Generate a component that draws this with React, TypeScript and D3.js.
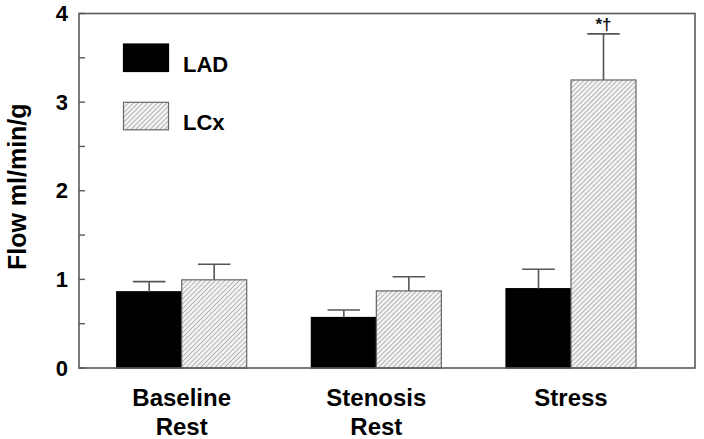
import React from "react";
import * as d3 from "d3";

const groups = ["Baseline Rest", "Stenosis Rest", "Stress"];
const groupLines = [["Baseline", "Rest"], ["Stenosis", "Rest"], ["Stress"]];
const series = ["LAD", "LCx"];
const ladMean = [0.86, 0.57, 0.895];
const ladErr = [0.975, 0.655, 1.115];
const lcxMean = [0.995, 0.87, 3.25];
const lcxErr = [1.17, 1.03, 3.77];
const majorTicks = [0, 1, 2, 3, 4];
const minorTicks = [0.5, 1.5, 2.5, 3.5];

const W = 704;
const H = 439;
const left = 79;
const right = 695;
const top = 13.5;
const bottom = 368;
const barW = 65;

const App = () => {
  const y = d3.scaleLinear().domain([0, 4]).range([bottom, top]);
  const x = d3.scalePoint().domain(groups).range([181.7, 571]);
  const sub = d3.scaleBand().domain(series).range([-barW, barW]);

  const rows = groups.flatMap((g, i) => [
    { g, s: "LAD", v: ladMean[i], e: ladErr[i] },
    { g, s: "LCx", v: lcxMean[i], e: lcxErr[i] },
  ]);

  const font = "Liberation Sans, Arial, sans-serif";
  const frame = "#5a5a5a";

  return (
    <svg
      width={W}
      height={H}
      style={{ position: "absolute", left: 0, top: 0, background: "#fff" }}
      fontFamily={font}
      fontWeight="bold"
    >
      <defs>
        <pattern
          id="hatch"
          patternUnits="userSpaceOnUse"
          width={3.4}
          height={3.4}
          patternTransform="rotate(45)"
        >
          <rect width={3.4} height={3.4} fill="#f2f2f2" />
          <line x1={0} y1={0} x2={0} y2={3.4} stroke="#858585" strokeWidth={1.1} />
        </pattern>
      </defs>

      {/* bars */}
      {rows.map((d, i) => {
        const x0 = (x(d.g) as number) + (sub(d.s) as number);
        const fill = d.s === "LAD" ? "#000" : "url(#hatch)";
        return (
          <rect
            key={i}
            x={x0}
            y={y(d.v)}
            width={sub.bandwidth()}
            height={y(0) - y(d.v)}
            fill={fill}
            stroke={d.s === "LAD" ? "#000" : "#666"}
            strokeWidth={1.2}
          />
        );
      })}

      {/* error bars */}
      {rows.map((d, i) => {
        const cx = (x(d.g) as number) + (sub(d.s) as number) + sub.bandwidth() / 2;
        const hw = sub.bandwidth() / 4;
        return (
          <g key={"e" + i} stroke="#555" strokeWidth={1.6}>
            <line x1={cx} x2={cx} y1={y(d.v)} y2={y(d.e)} />
            <line x1={cx - hw} x2={cx + hw} y1={y(d.e)} y2={y(d.e)} />
          </g>
        );
      })}

      {/* significance mark */}
      <text
        x={(x("Stress") as number) + (sub("LCx") as number) + sub.bandwidth() / 2}
        y={y(lcxErr[2]) - 4}
        textAnchor="middle"
        fontSize={17}
        fill="#111"
      >
        *†
      </text>

      {/* frame */}
      <rect
        x={left}
        y={top}
        width={right - left}
        height={bottom - top}
        fill="none"
        stroke={frame}
        strokeWidth={1.6}
      />

      {/* ticks */}
      {majorTicks.map((t) => (
        <g key={"t" + t}>
          <line x1={left} x2={left + 6} y1={y(t)} y2={y(t)} stroke={frame} strokeWidth={1.4} />
          <text x={68} y={y(t) + 7.5} textAnchor="end" fontSize={22} fill="#000">
            {t}
          </text>
        </g>
      ))}
      {minorTicks.map((t) => (
        <line key={"m" + t} x1={left} x2={left + 6} y1={y(t)} y2={y(t)} stroke={frame} strokeWidth={1.4} />
      ))}

      {/* y label */}
      <text
        transform={`translate(26, ${(top + bottom) / 2 - 4}) rotate(-90)`}
        textAnchor="middle"
        fontSize={25}
        fill="#000"
      >
        Flow ml/min/g
      </text>

      {/* x labels */}
      {groups.map((g, i) => (
        <text key={g} textAnchor="middle" fontSize={24} fill="#000">
          {groupLines[i].map((l, j) => (
            <tspan key={j} x={x(g) as number} y={406 + j * 29}>
              {l}
            </tspan>
          ))}
        </text>
      ))}

      {/* legend */}
      {series.map((s, i) => (
        <g key={s}>
          <rect
            x={123.5}
            y={44 + i * 58.3}
            width={45}
            height={27.5}
            fill={s === "LAD" ? "#000" : "url(#hatch)"}
            stroke={s === "LAD" ? "#000" : "#666"}
            strokeWidth={1.2}
          />
          <text x={183} y={71.5 + i * 58.3} fontSize={22} fill="#000">
            {s}
          </text>
        </g>
      ))}
    </svg>
  );
};

export default App;
